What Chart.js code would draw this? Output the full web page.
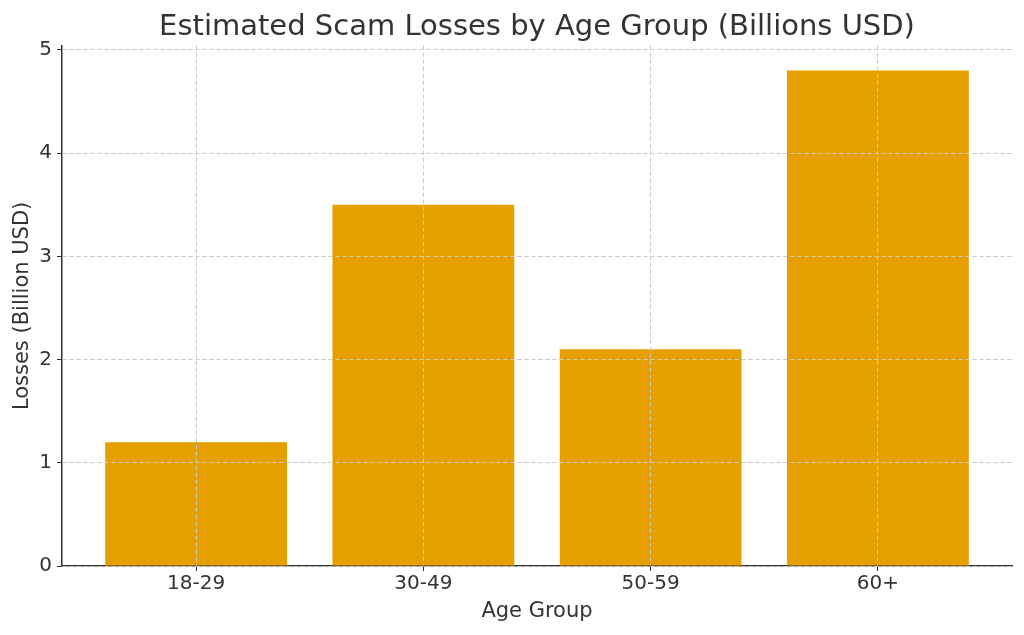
<!DOCTYPE html>
<html>
<head>
<meta charset="utf-8">
<script src="https://cdn.jsdelivr.net/npm/chart.js@4/dist/chart.umd.min.js"></script>
<style>
  html, body { margin: 0; padding: 0; background: #fff; }
  #wrap { width: 1024px; height: 635px; }
</style>
</head>
<body>
<div id="wrap"><canvas id="myChart" width="1024" height="635"></canvas></div>
<script>
'use strict';

const ageGroups = ['18-29', '30-49', '50-59', '60+'];
const losses = [1.2, 3.5, 2.1, 4.8];
const yTicks = [0, 1, 2, 3, 4, 5];

const textColor = '#333333';
const fontFamily = "'DejaVu Sans', sans-serif";

// matplotlib puts the grid on top of the bars, so draw it again afterwards
const gridOnTop = {
  id: 'gridOnTop',
  afterDatasetsDraw(chart) {
    chart.scales.x.drawGrid(chart.chartArea);
    chart.scales.y.drawGrid(chart.chartArea);
  }
};

let ctx = document.getElementById('myChart').getContext('2d');
let myChart = new Chart(ctx, {
  type: 'bar',
  data: {
    datasets: [{
      label: 'Losses',
      data: losses.map((v, i) => ({ x: i, y: v })),
      backgroundColor: '#E69F00',
      borderWidth: 0,
      categoryPercentage: 1,
      barPercentage: 0.8
    }]
  },
  plugins: [gridOnTop],
  options: {
    responsive: false,
    animation: false,
    layout: { padding: { left: 0, right: 12, top: 0, bottom: 11 } },
    plugins: {
      legend: { display: false },
      tooltip: { enabled: false },
      title: {
        display: true,
        fullSize: false,
        text: 'Estimated Scam Losses by Age Group (Billions USD)',
        color: textColor,
        font: { family: fontFamily, size: 29, weight: 'normal' },
        padding: { top: 10, bottom: 1 }
      }
    },
    scales: {
      x: {
        type: 'linear',
        offset: false,
        min: -0.59,
        max: 3.59,
        afterBuildTicks: axis => { axis.ticks = ageGroups.map((c, i) => ({ value: i })); },
        afterFit: axis => { axis.height = 58; },
        ticks: {
          callback: v => ageGroups[v],
          color: textColor,
          font: { family: fontFamily, size: 20 },
          padding: 1,
          maxRotation: 0
        },
        grid: {
          offset: false,
          color: '#cccccc',
          tickColor: textColor,
          tickLength: 5,
          lineWidth: 1
        },
        border: { color: textColor, width: 1.5, dash: [4, 3] },
        title: {
          display: true,
          text: 'Age Group',
          color: textColor,
          font: { family: fontFamily, size: 21 },
          padding: { top: 0, bottom: 0 }
        }
      },
      y: {
        min: 0,
        max: 5.04,
        afterBuildTicks: axis => { axis.ticks = yTicks.map(v => ({ value: v })); },
        afterFit: axis => { axis.width = 62; },
        ticks: {
          color: textColor,
          font: { family: fontFamily, size: 20 },
          padding: 5
        },
        grid: {
          color: '#cccccc',
          tickColor: textColor,
          tickLength: 5,
          lineWidth: 1
        },
        border: { color: textColor, width: 1.5, dash: [4, 3] },
        title: {
          display: true,
          text: 'Losses (Billion USD)',
          color: textColor,
          font: { family: fontFamily, size: 21 },
          padding: { top: 10, bottom: 0 }
        }
      }
    }
  }
});
</script>
</body>
</html>
